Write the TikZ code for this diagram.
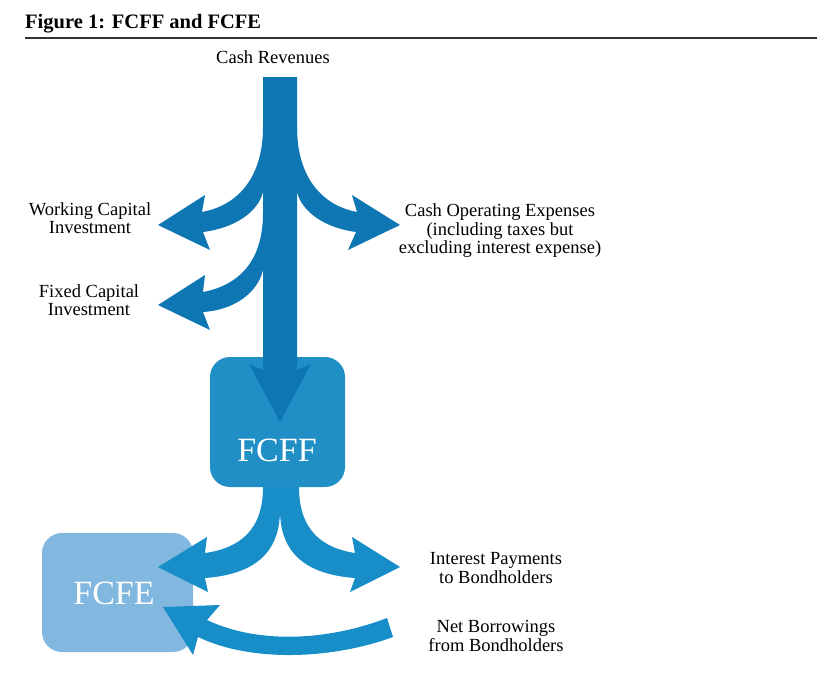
\documentclass[tikz,border=0pt]{standalone}
\usepackage{fontspec}
\setmainfont{Liberation Serif}

\definecolor{flowblue}{RGB}{14,118,178}
\definecolor{ffblue}{RGB}{32,143,198}
\definecolor{lowblue}{RGB}{24,142,200}
\definecolor{feblue}{RGB}{130,184,224}

\tikzset{
  lbl/.style={align=center, inner sep=0pt, font=\fontsize{18.5}{18.5}\selectfont},
  cashbox/.style={rounded corners=20pt, inner sep=0pt},
  boxtext/.style={text=white, inner sep=0pt, font=\fontsize{34}{34}\selectfont},
}

\begin{document}
\begin{tikzpicture}[x=1pt,y=-1pt]

\newcommand\TrunkL{263}
\newcommand\TrunkR{297}

\useasboundingbox (0,0) rectangle (827,678);

%% title
\node[anchor=base west, inner sep=0pt, font=\fontsize{20.5}{20.5}\selectfont\bfseries] (title) at (25,28) {Figure 1: FCFF and FCFE};
\draw[line width=2.2pt, black!80] (25,38) -- (817,38);

%% boxes
\node[cashbox, fill=feblue, minimum width=151pt, minimum height=119pt] (fcfe) at (117.5,592.5) {};
\node[cashbox, fill=ffblue, minimum width=135pt, minimum height=130pt] (fcff) at (277.5,422) {};

%% tips
\coordinate (wc tip) at (158,225);
\coordinate (fc tip) at (158,305);
\coordinate (coe tip) at (400,225);
\coordinate (ff tip) at (280,422);
\coordinate (fe tip) at (158,567);
\coordinate (ip tip) at (400,567);
\coordinate (nb tip) at (163,607);

%% trunk
\fill[flowblue] (\TrunkL,77) -- (\TrunkR,77) -- (\TrunkR,370) -- (311,364) -- (ff tip)
  -- (249,364) -- (\TrunkL,370) -- cycle;

%% working capital
\fill[flowblue] (\TrunkL,127) .. controls (\TrunkL,175) and (240,205) .. (202,212)
  -- (205,195) -- (wc tip) -- (210,250) -- (203,232)
  .. controls (235,228) and (258,212) .. (\TrunkL,192) -- cycle;

%% fixed capital
\fill[flowblue] (\TrunkL,213) .. controls (\TrunkL,260) and (240,285) .. (203,292)
  -- (205,275) -- (fc tip) -- (210,330) -- (203,312)
  .. controls (235,310) and (258,292) .. (\TrunkL,270) -- cycle;

%% operating expenses
\fill[flowblue] (\TrunkR,127) .. controls (\TrunkR,175) and (320,205) .. (357,212)
  -- (352,195) -- (coe tip) -- (348,250) -- (356,232)
  .. controls (325,228) and (302,212) .. (\TrunkR,192) -- cycle;

%% fcff to fcfe
\fill[lowblue] (263,487) .. controls (263,530) and (240,548) .. (205,553)
  -- (207,537) -- (fe tip) -- (208,592) -- (205,578)
  .. controls (245,575) and (280,560) .. (280,510) -- (280,487) -- cycle;

%% interest payments
\fill[lowblue] (299,487) .. controls (299,530) and (322,548) .. (355,553)
  -- (352,537) -- (ip tip) -- (350,592) -- (355,578)
  .. controls (315,575) and (280,560) .. (280,510) -- (280,487) -- cycle;

%% net borrowings
\fill[lowblue] (387,618) .. controls (330,640) and (260,645) .. (207,620)
  -- (220,605) -- (nb tip) -- (193,655) -- (198,637)
  .. controls (250,662) and (330,660) .. (393,637) -- cycle;

%% labels
\node[lbl] (cashrev) at (273,57) {Cash Revenues};
\node[lbl] (wcinv) at (90,218) {Working Capital\\Investment};
\node[lbl] (fcinv) at (89,300) {Fixed Capital\\Investment};
\node[lbl] (cashopex) at (500,231) {Cash Operating Expenses\\(including taxes but\\excluding interest expense)};
\node[lbl] (intpay) at (496,568) {Interest Payments\\to Bondholders};
\node[lbl] (netborrow) at (496,636) {Net Borrowings\\from Bondholders};

\node[boxtext] (fcfftxt) at (277,450) {FCFF};
\node[boxtext] (fcfetxt) at (114,593) {FCFE};

\end{tikzpicture}
\end{document}
